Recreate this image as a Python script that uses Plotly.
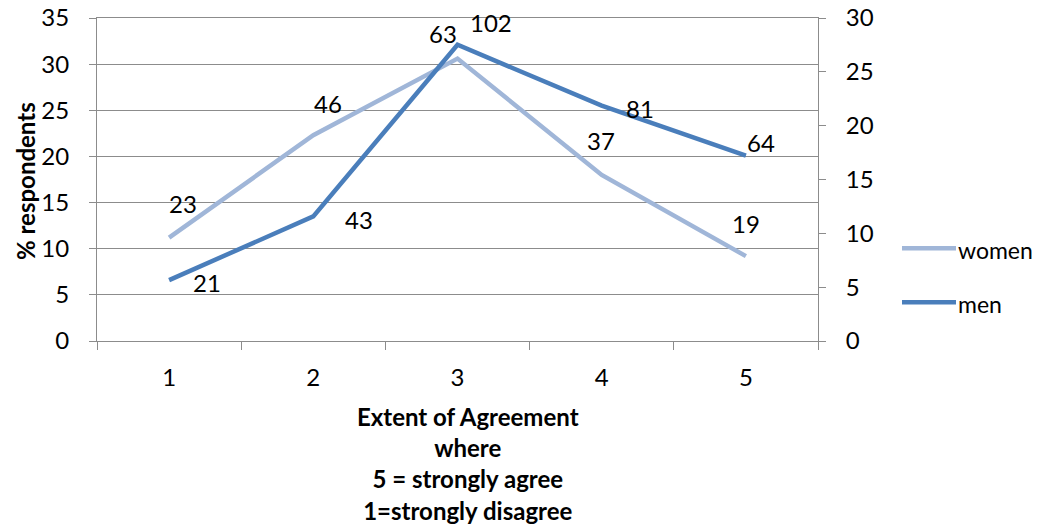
import plotly.graph_objects as go

# data
categories = ["1", "2", "3", "4", "5"]
women_pct = [11.2, 22.3, 30.6, 18.0, 9.2]
men_pct = [6.6, 13.5, 32.1, 25.5, 20.1]
women_counts = [23, 46, 63, 37, 19]
men_counts = [21, 43, 102, 81, 64]

# label offsets in px (style only)
women_shift = [(14, 34), (15, 32), (-15, 25), (-1, 34), (0, 33)]
men_shift = [(38, -2), (46, -3), (33, 22), (38, -3), (15, 13)]

WOMEN_C = "#A0B6D8"
MEN_C = "#4A7EBB"
GRID = "#8C8C8C"
FONT = "Lato"
FS = 24

W, H = 1042, 527
PL, PR, PT, PB = 97, 818, 18.3, 340.7  # plot area in px

def px(x):
    return (x - PL) / (PR - PL)

def py(y):
    return (PB - y) / (PB - PT)

fig = go.Figure()
fig.add_trace(go.Scatter(x=categories, y=women_pct, mode="lines", name="women",
                         line=dict(color=WOMEN_C, width=4.5)))
fig.add_trace(go.Scatter(x=categories, y=men_pct, mode="lines", name="men",
                         line=dict(color=MEN_C, width=4.5)))
# empty trace so the secondary (right) axis gets drawn
fig.add_trace(go.Scatter(x=categories, y=[None] * len(categories), yaxis="y2",
                         mode="lines", showlegend=False, hoverinfo="skip"))

# data labels (category axis -> annotation x is the category index)
for i, (val, cnt, (dx, dy)) in enumerate(zip(women_pct, women_counts, women_shift)):
    fig.add_annotation(x=i, y=val, text=str(cnt), showarrow=False,
                       xshift=dx, yshift=dy, font=dict(size=FS, color="black"))
for i, (val, cnt, (dx, dy)) in enumerate(zip(men_pct, men_counts, men_shift)):
    fig.add_annotation(x=i, y=val, text=str(cnt), showarrow=False,
                       xshift=dx, yshift=dy, font=dict(size=FS, color="black"))

# axis titles
fig.add_annotation(xref="paper", yref="paper", x=px(468), y=py(400),
                   xanchor="center", yanchor="top", showarrow=False, align="center",
                   text="<b>Extent of Agreement<br>where<br>5 = strongly agree<br>1=strongly disagree</b>",
                   font=dict(size=FS, color="black"))
fig.add_annotation(xref="paper", yref="paper", x=px(25), y=py(181),
                   xanchor="center", yanchor="middle",
                   textangle=-90, showarrow=False, text="<b>% respondents</b>",
                   font=dict(size=FS, color="black"))

# hand-drawn legend
for name, color, ypx in [("women", WOMEN_C, 248), ("men", MEN_C, 302)]:
    fig.add_shape(type="line", xref="paper", yref="paper",
                  x0=px(902), x1=px(956), y0=py(ypx), y1=py(ypx),
                  line=dict(color=color, width=4.5))
    fig.add_annotation(xref="paper", yref="paper", x=px(957), y=py(ypx + 2),
                       xanchor="left", yanchor="middle", showarrow=False, text=name,
                       borderpad=0, font=dict(size=23, color="black"))

fig.update_layout(
    width=W, height=H,
    margin=dict(l=PL, r=W - PR, t=PT, b=H - PB),
    plot_bgcolor="white", paper_bgcolor="white",
    showlegend=False,
    font=dict(family=FONT, size=FS, color="black"),
    xaxis=dict(type="category", range=[-0.5, 4.5], tickson="boundaries",
               ticks="outside", ticklen=8, tickcolor=GRID, showline=True, mirror=True,
               linecolor=GRID, showgrid=False, ticklabelstandoff=15, automargin=False),
    yaxis=dict(range=[0, 35], dtick=5, ticks="outside", ticklen=7, tickcolor=GRID,
               showline=True, linecolor=GRID, showgrid=True, gridcolor=GRID,
               zeroline=False, ticklabelstandoff=15, automargin=False,
               ticklabeloverflow="allow"),
    yaxis2=dict(range=[0, 30], dtick=5, overlaying="y", side="right", anchor="x",
                ticks="outside", ticklen=7, tickcolor=GRID, showline=True,
                linecolor=GRID, showgrid=False, zeroline=False, ticklabelstandoff=15,
                automargin=False, ticklabeloverflow="allow"),
)

# drop the default 8px page margin so the figure sits at the window's corner
fig.write_html("out.html", config={"displayModeBar": False},
               post_script="document.body.style.margin='0px';")
